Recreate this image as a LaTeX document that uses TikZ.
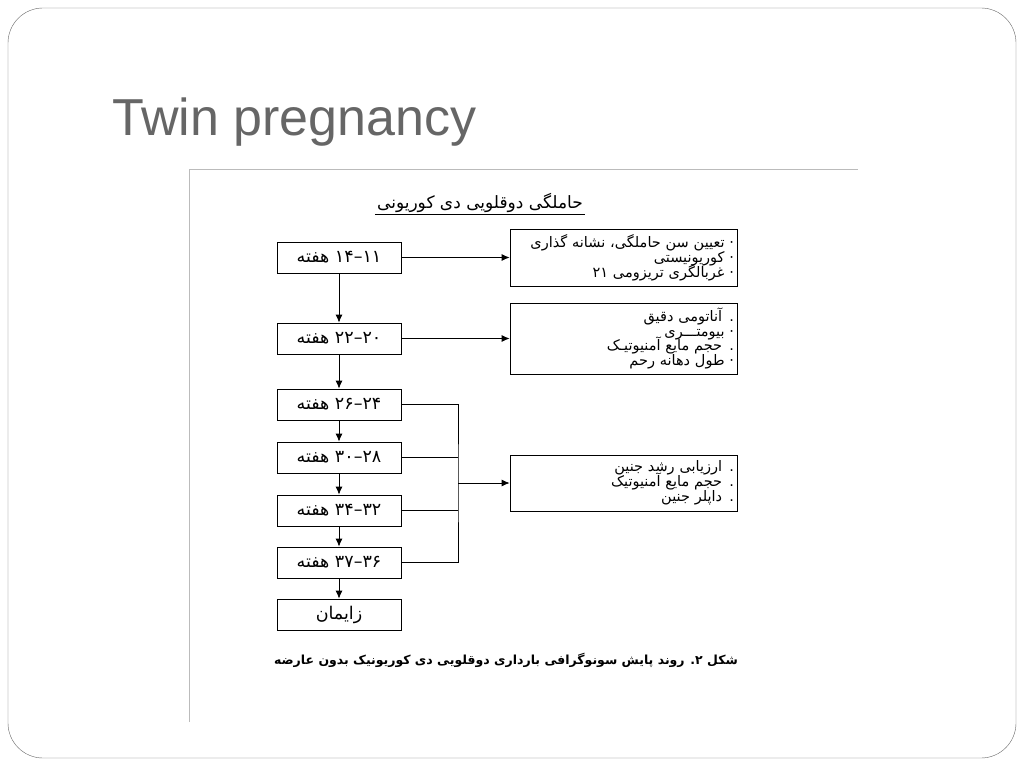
\documentclass[tikz,border=0pt]{standalone}
\usepackage{fontspec}
\usetikzlibrary{arrows.meta}
\setmainfont{Liberation Sans}
\newfontfamily\fa[Script=Arabic]{DejaVu Sans}
\TeXXeTstate=1
\definecolor{titlegray}{HTML}{666666}
\definecolor{framegray}{HTML}{BBBBBB}
\newcommand\infofont{\fa\fontsize{14.5}{14.8}\selectfont\lineskiplimit=-20pt\relax}

\begin{document}
\begin{tikzpicture}[x=1pt, y=1pt, >={Latex[length=8pt,width=7pt]}, node distance=53pt]

  \tikzstyle{wk} = [draw, thick, minimum width=124pt, minimum height=31pt, inner sep=0pt,
                    font=\fa\fontsize{17.5}{20}\selectfont]
  \tikzstyle{info} = [draw, thick, text width=221pt, inner sep=3pt, align=right,
                      font=\infofont]

    \useasboundingbox (0,0) rectangle (1024,-768);
    \draw[titlegray, rounded corners=35pt] (8,-8) rectangle (1016,-758);
    \node[anchor=base west, inner sep=0pt, text=titlegray, font=\fontsize{52}{60}\selectfont] (title) at (112,-135) {Twin pregnancy};
    \draw[framegray] (189,-722) -- (189,-169) -- (858,-169);

    \node[font=\fa\fontsize{17}{20}\selectfont, inner sep=2pt] (head) at (480,-203) {\beginR حاملگی دوقلویی دی کوریونی\endR};
    \draw[thick] (head.south west) -- (head.south east);

    \node[wk] (w11) at (339,-257.5) {\beginR ۱۱\kern0pt–\kern0pt۱۴ هفته\endR};
    \node[wk, node distance=81pt, below of=w11] (w20) {\beginR ۲۰\kern0pt–\kern0pt۲۲ هفته\endR}
    edge[<-, thick] (w11);
    \node[wk, node distance=66pt, below of=w20] (w24) {\beginR ۲۴\kern0pt–\kern0pt۲۶ هفته\endR}
    edge[<-, thick] (w20);
    \node[wk, below of=w24] (w28) {\beginR ۲۸\kern0pt–\kern0pt۳۰ هفته\endR}
    edge[<-, thick] (w24);
    \node[wk, below of=w28] (w32) {\beginR ۳۲\kern0pt–\kern0pt۳۴ هفته\endR}
    edge[<-, thick] (w28);
    \node[wk, node distance=52pt, below of=w32] (w36) {\beginR ۳۶\kern0pt–\kern0pt۳۷ هفته\endR}
    edge[<-, thick] (w32);
    \node[wk, node distance=52pt, below of=w36] (birth) {\beginR زایمان\endR}
    edge[<-, thick] (w36);

    \node[info, minimum height=57pt, node distance=284.5pt, right of=w11] (scr) {%
      \beginR · تعیین سن حاملگی، نشانه گذاری\endR\\
      \beginR · کوریونیستی\endR\\
      \beginR · غربالگری تریزومی ۲۱\endR}
    edge[<-, thick] (w11);
    \node[info, minimum height=71pt, node distance=284.5pt, right of=w20] (ana) {%
      \beginR . آناتومی دقیق\endR\\
      \beginR · بیومتـــری\endR\\
      \beginR . حجم مایع آمنیوتیـک\endR\\
      \beginR · طول دهانه رحم\endR}
    edge[<-, thick] (w20);

    \coordinate (join) at (458,-483);
    \node[info, minimum height=56pt] (grw) at (623.5,-483) {%
      \beginR . ارزیابی رشد جنین\endR\\
      \beginR . حجم مایع آمنیوتیک\endR\\
      \beginR . داپلر جنین\endR};
    \draw[thick] (w24.east) -| (join) |- (w36.east);
    \draw[thick] (w28.east) -- (w28.east -| join);
    \draw[thick] (w32.east) -- (w32.east -| join);
    \draw[thick, ->] (join) -- (grw);

    \node[font=\fa\bfseries\fontsize{12.5}{14}\selectfont] (cap) at (506,-660) {\beginR شکل ۲. روند پایش سونوگرافی بارداری دوقلویی دی کوریونیک بدون عارضه\endR};
\end{tikzpicture}
\end{document}
